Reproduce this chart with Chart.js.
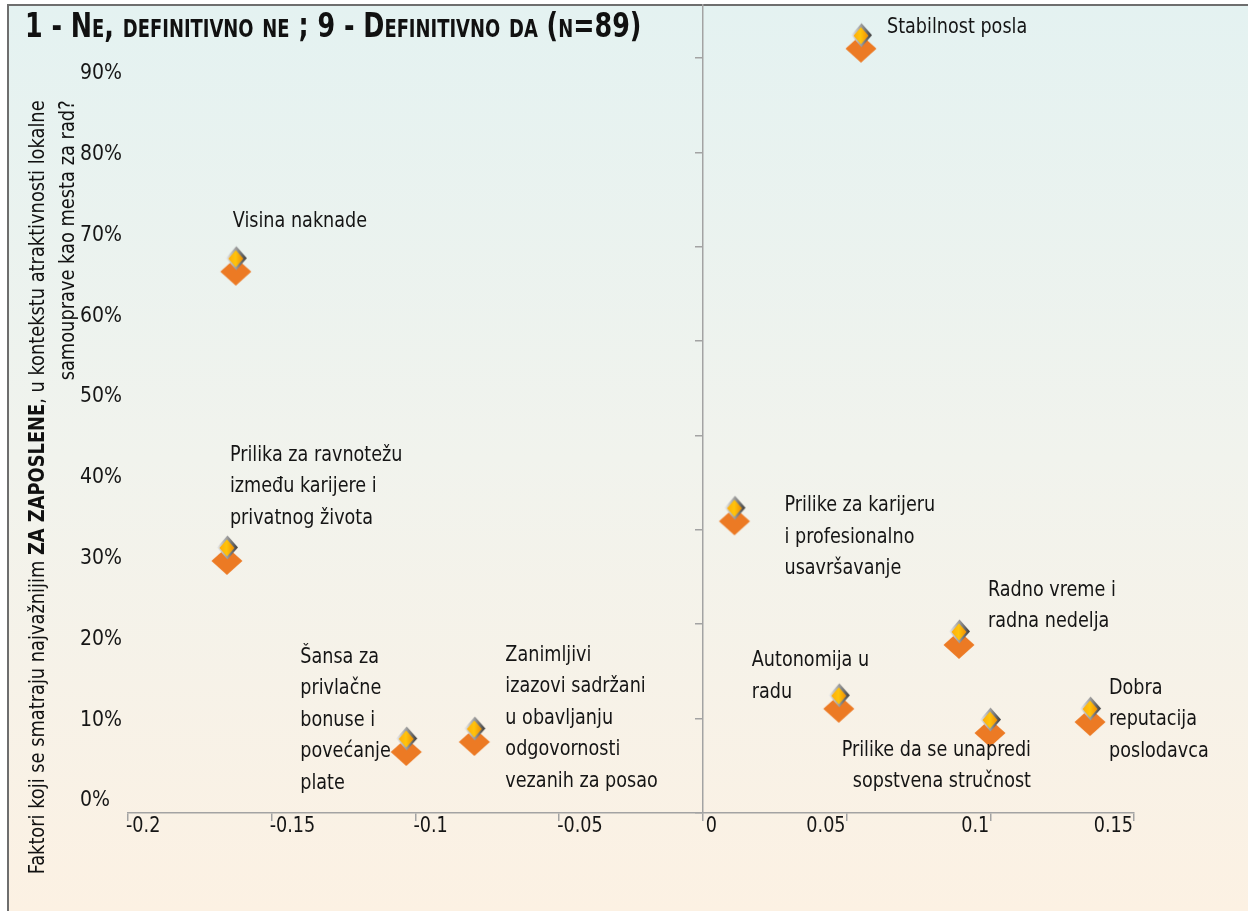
<!DOCTYPE html>
<html>
<head>
<meta charset="utf-8">
<script src="https://cdn.jsdelivr.net/npm/chart.js@4.4.0/dist/chart.umd.min.js"></script>
<style>
  html, body { margin: 0; padding: 0; background: #fff; }
  #frame {
    position: absolute; left: 7px; top: 4px; width: 1241px; height: 907px;
    box-sizing: border-box;
    border-left: 2px solid #6e6e6e; border-top: 2px solid #6e6e6e;
    background: linear-gradient(to bottom, #e4f2f1 0%, #f1f3ed 50%, #fcf1e3 100%);
  }
  #chart { position: absolute; left: 0; top: 0; }
  #title {
    position: absolute; left: 25px; top: 5px;
    font: bold 34px "Liberation Sans Narrow", "DejaVu Sans Condensed", "Arial Narrow", sans-serif;
    font-variant: small-caps; color: #111; white-space: nowrap;
    transform-origin: 0 0; transform: scaleX(0.83);
  }
  #ytitle {
    position: absolute; left: 22px; top: 905px; width: 894px;
    transform-origin: 0 0; transform: rotate(-90deg) scaleX(0.9);
    font: 22px "Liberation Sans Narrow", "DejaVu Sans Condensed", "Arial Narrow", sans-serif;
    line-height: 30px; text-align: right; white-space: nowrap; color: #111;
  }
</style>
</head>
<body>
<div id="frame"></div>
<canvas id="chart" width="1248" height="911"></canvas>
<div id="title">1 - Ne, definitivno ne ; 9 - Definitivno da (n=89)</div>
<div id="ytitle">Faktori koji se smatraju najvažnijim <b>ZA ZAPOSLENE</b>, u kontekstu atraktivnosti lokalne<br>samouprave kao mesta za rad?</div>
<script>
const FONT = '"Liberation Sans Narrow", "DejaVu Sans Condensed", "Arial Narrow", sans-serif';

// data
const categories = [
  ['Stabilnost posla'],
  ['Visina naknade'],
  ['Prilika za ravnotežu', 'između karijere i', 'privatnog života'],
  ['Šansa za', 'privlačne', 'bonuse i', 'povećanje', 'plate'],
  ['Zanimljivi', 'izazovi sadržani', 'u obavljanju', 'odgovornosti', 'vezanih za posao'],
  ['Prilike za karijeru', 'i profesionalno', 'usavršavanje'],
  ['Radno vreme i', 'radna nedelja'],
  ['Autonomija u', 'radu'],
  ['Prilike da se unapredi', 'sopstvena stručnost'],
  ['Dobra', 'reputacija', 'poslodavca']
];
const xValues = [0.055, -0.1625, -0.1656, -0.1032, -0.0795, 0.011, 0.0891, 0.0473, 0.0999, 0.1347];
const yValues = [0.946, 0.670, 0.312, 0.0755, 0.0879, 0.361, 0.208, 0.129, 0.099, 0.1126];
const xTickLabels = ['-0.2', '-0.15', '-0.1', '-0.05', '0', '0.05', '0.1', '0.15'];
const yTickLabels = ['0%', '10%', '20%', '30%', '40%', '50%', '60%', '70%', '80%', '90%'];

// label placement relative to each point (pixels) - kept apart from the data
const labelPos = [
  { dx: 26, dy: -21 }, { dx: -3, dy: -50 }, { dx: 3, dy: -106 }, { dx: -106, dy: -95 },
  { dx: 31, dy: -87 }, { dx: 50, dy: -16 }, { dx: 29, dy: -55 }, { dx: -87, dy: -48 },
  { dx: 41, dy: 17, align: 'right' }, { dx: 19, dy: -34 }
];

// the fallback font is wider than the condensed face of the original
const SQUEEZE = 0.89;
function squeezedText(ctx, text, x, y) {
  ctx.save();
  ctx.scale(SQUEEZE, 1);
  ctx.fillText(text, x / SQUEEZE, y);
  ctx.restore();
}

// marker: orange diamond with a small gradient diamond sitting on top of it
function makeMarker() {
  const c = document.createElement('canvas');
  c.width = 40; c.height = 80;
  const g = c.getContext('2d');
  const diamond = (cx, cy, hw, hh) => {
    g.beginPath();
    g.moveTo(cx, cy - hh); g.lineTo(cx + hw, cy); g.lineTo(cx, cy + hh); g.lineTo(cx - hw, cy);
    g.closePath();
  };
  diamond(20, 40, 15.5, 14);
  g.fillStyle = '#ec7a24';
  g.fill();
  const ox = 20.5, oy = 26.5;
  diamond(ox, oy, 10.5, 12);
  let gr = g.createLinearGradient(ox - 10.5, 0, ox + 10.5, 0);
  gr.addColorStop(0, '#ececec'); gr.addColorStop(0.5, '#9a9a9a'); gr.addColorStop(1, '#3a3a3a');
  g.fillStyle = gr; g.fill();
  diamond(ox - 0.5, oy + 0.5, 7.5, 8.5);
  gr = g.createLinearGradient(ox - 7.5, 0, ox + 7.5, 0);
  gr.addColorStop(0, '#ffae0a'); gr.addColorStop(0.45, '#ffc40c'); gr.addColorStop(1, '#f08a00');
  g.fillStyle = gr; g.fill();
  return c;
}

const pointLabels = {
  id: 'pointLabels',
  afterDatasetsDraw(chart) {
    const ctx = chart.ctx;
    const meta = chart.getDatasetMeta(0);
    ctx.save();
    ctx.font = '22px ' + FONT;
    ctx.fillStyle = '#151515';
    ctx.textBaseline = 'middle';
    meta.data.forEach((pt, i) => {
      const p = labelPos[i];
      ctx.textAlign = p.align || 'left';
      categories[i].forEach((line, j) => {
        squeezedText(ctx, line, pt.x + p.dx, pt.y + p.dy + j * 31.5);
      });
    });
    ctx.restore();
  }
};

const xLabels = {
  id: 'xLabels',
  afterDraw(chart) {
    const ctx = chart.ctx;
    const sx = chart.scales.x;
    ctx.save();
    ctx.font = '22px ' + FONT;
    ctx.fillStyle = '#151515';
    ctx.textBaseline = 'middle';
    xTickLabels.forEach(t => {
      const v = parseFloat(t);
      const px = sx.getPixelForValue(v);
      if (v < 0) { ctx.textAlign = 'left'; squeezedText(ctx, t, px - 2, 826); }
      else if (v === 0) { ctx.textAlign = 'left'; squeezedText(ctx, t, px + 3, 826); }
      else { ctx.textAlign = 'right'; squeezedText(ctx, t, px - 1, 826); }
    });
    ctx.restore();
  }
};

const axisGrey = '#a3a3a3';

new Chart(document.getElementById('chart'), {
  type: 'scatter',
  data: {
    datasets: [{
      data: xValues.map((x, i) => ({ x: x, y: yValues[i] })),
      pointStyle: makeMarker(),
      yAxisID: 'y'
    }]
  },
  options: {
    responsive: false,
    animation: false,
    layout: { padding: { left: 80, right: 114, top: 5, bottom: 0 } },
    plugins: { legend: { display: false }, tooltip: { enabled: false } },
    scales: {
      x: {
        type: 'linear', position: 'bottom', min: -0.2, max: 0.15,
        afterBuildTicks: s => { s.ticks = xTickLabels.map(t => ({ value: parseFloat(t) })); },
        grid: { drawOnChartArea: false, drawTicks: true, tickLength: 8, color: axisGrey, lineWidth: 1.5 },
        border: { color: axisGrey, width: 1.5 },
        ticks: { display: false },
        afterFit: s => { s.height = 98; s.paddingLeft = 0; s.paddingRight = 0; }
      },
      y: { type: 'linear', display: false, min: 0, max: 1 },
      yt: {
        type: 'linear', position: { x: 0 }, min: 0, max: 0.856,
        afterBuildTicks: s => { s.ticks = [0, 0.1, 0.2, 0.3, 0.4, 0.5, 0.6, 0.7, 0.8].map(v => ({ value: v })); },
        grid: { drawOnChartArea: false, drawTicks: true, tickLength: 7, color: axisGrey, lineWidth: 1.5 },
        border: { color: axisGrey, width: 1.5 },
        ticks: { display: false }
      },
      yl: {
        type: 'linear', position: 'left', min: 0, max: 1,
        afterBuildTicks: s => { s.ticks = yTickLabels.map((t, i) => ({ value: i / 10 })); },
        grid: { display: false },
        border: { display: false },
        ticks: {
          callback: (v, i) => yTickLabels[i],
          crossAlign: 'far', labelOffset: -12, padding: 0,
          color: '#151515', font: { family: FONT, size: 21 }
        },
        afterFit: s => { s.width = 48; s.paddingTop = 0; s.paddingBottom = 0; }
      }
    }
  },
  plugins: [pointLabels, xLabels]
});
</script>
</body>
</html>
